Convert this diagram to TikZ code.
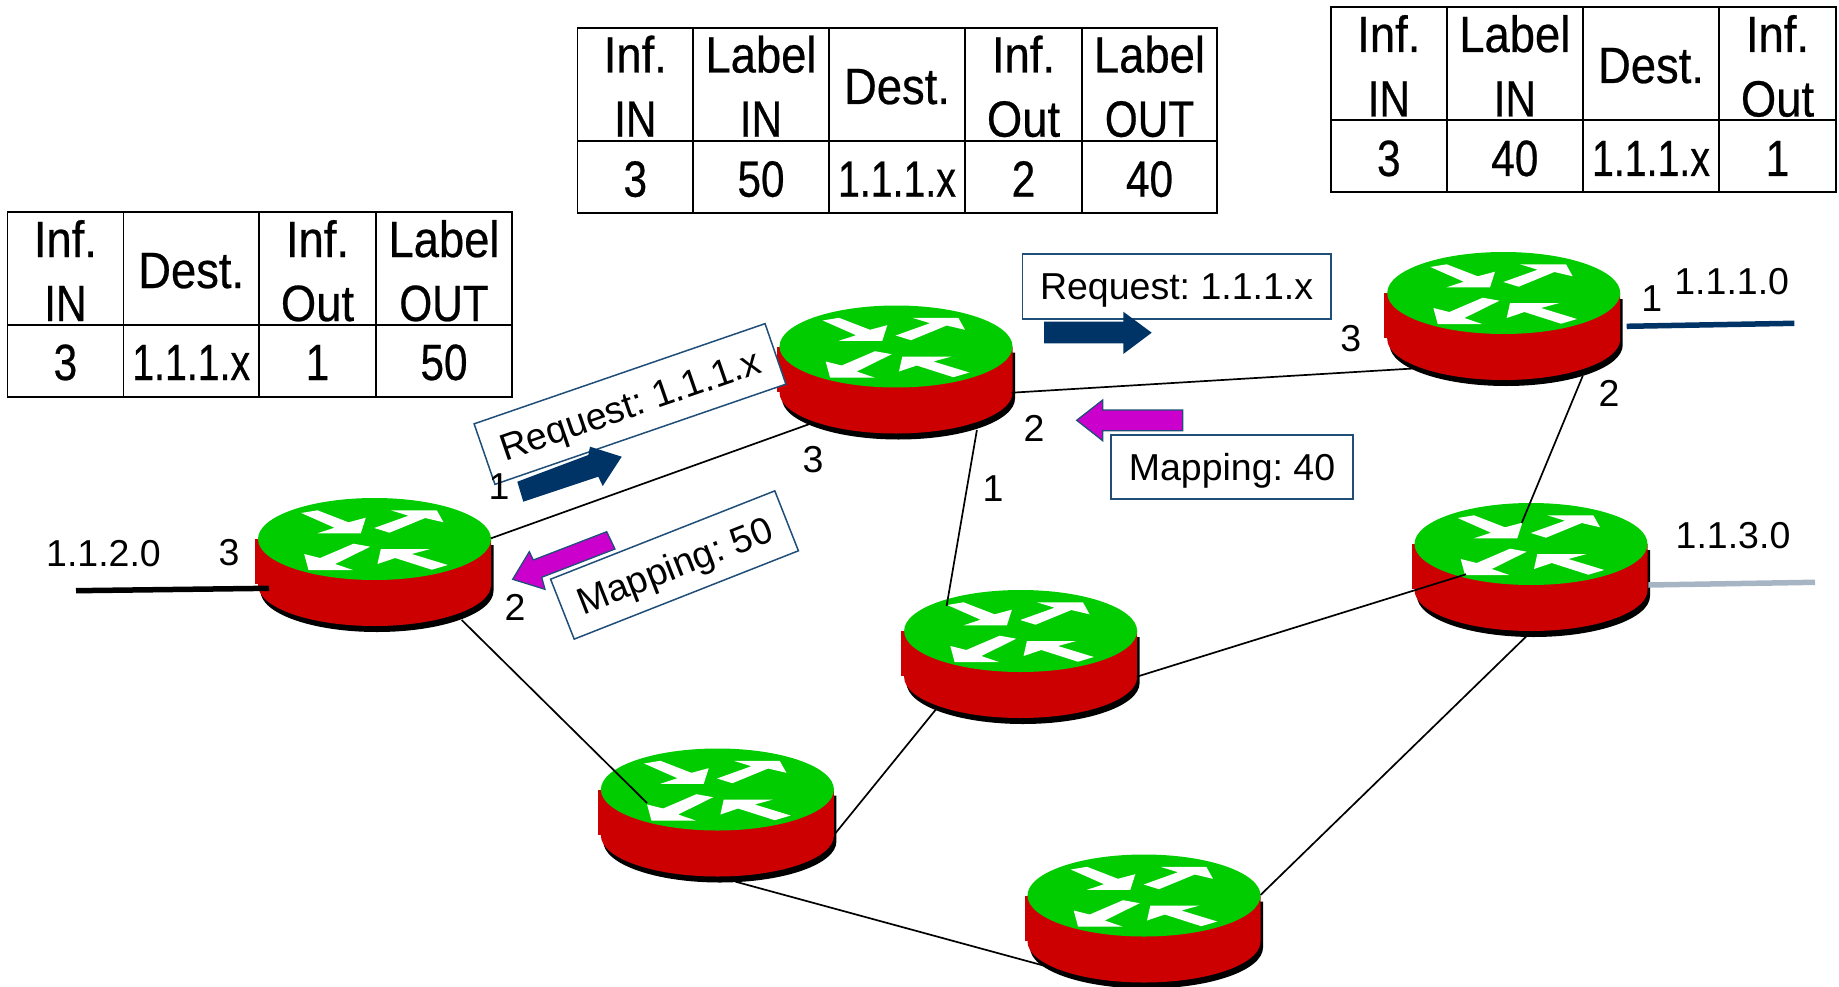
\documentclass[tikz,border=0pt]{standalone}
\usepackage{fontspec}
\setmainfont{Liberation Sans}
\newfontfamily\narrowfont[FakeStretch=0.83,FakeBold=0.5]{Liberation Sans}
\newfontfamily\lowerfont[FakeStretch=0.89,FakeBold=0.5]{Liberation Sans}
\newfontfamily\narrowerfont[FakeStretch=0.77,FakeBold=0.5]{Liberation Sans}
\usetikzlibrary{shapes.geometric,calc}
\definecolor{rgreen}{HTML}{00CC00}
\definecolor{rred}{HTML}{CC0000}
\definecolor{navy}{HTML}{003366}
\definecolor{boxblue}{HTML}{1F4E79}
\definecolor{magent}{HTML}{CC00CC}
\definecolor{graystub}{HTML}{A6B4C4}
\tikzset{
  face/.style={ellipse,fill=rgreen,minimum width=233,minimum height=82,inner sep=0},
  link/.style={black,line width=1.7},
  stub/.style={line width=5.5},
  cellbox/.style={draw=black,line width=1.7},
  tabletext/.style={anchor=base,inner sep=0,font=\narrowfont\fontsize{51}{51}\selectfont},
  tablelow/.style={anchor=base,inner sep=0,font=\lowerfont\fontsize{51}{51}\selectfont},
  tablewide/.style={anchor=base,inner sep=0,font=\narrowerfont\fontsize{51}{51}\selectfont},
  num/.style={anchor=base,inner sep=0,font=\fontsize{37.5}{40}\selectfont},
  callout/.style={draw=boxblue,fill=white,line width=1.5,inner sep=0,font=\fontsize{37.5}{40}\selectfont\frenchspacing,text height=27,text depth=0},
  bluearrow/.style={fill=navy},
  magarrow/.style={fill=magent,draw=boxblue,line width=1.3}
}
% name, x, y
\newcommand{\routerat}[3]{%
  \begin{scope}[shift={(#2,#3)}]
    \fill[black,shift={(2.5,6)}] (-116.5,0) -- (-116.5,46) arc[start angle=180,end angle=360,x radius=116.5,y radius=-41] -- (116.5,0) -- cycle;
    \fill[rred] (-119.5,0) rectangle (-116,45);
    \fill[rred] (-116.5,0) -- (-116.5,46) arc[start angle=180,end angle=360,x radius=116.5,y radius=-41] -- (116.5,0) -- cycle;
  \end{scope}
  \node[face] (#1) at (#2,#3) {};
  \begin{scope}[shift={(#2,#3)}]
    \fill[white] (-73.3,-26) -- (-57,-28.7) -- (-26,-16.7) -- (-8.7,-21.3) -- (-13.7,-5.7) -- (-57,-5.7) -- (-40,-11.3) -- cycle;
    \fill[white] (-0.3,-11) -- (15,-6.3) -- (50.7,-21) -- (69,-16.7) -- (62.3,-28.7) -- (16.3,-28.7) -- (34,-23.3) -- cycle;
    \fill[white] (-4.3,7.7) -- (-21,4.7) -- (-54.3,19) -- (-70.3,15) -- (-66,31) -- (-21.7,31) -- (-39.3,25) -- cycle;
    \fill[white] (73.3,26) -- (57.3,30.7) -- (20.7,19) -- (3,25) -- (6.3,10) -- (55.7,10) -- (37.3,15) -- cycle;
  \end{scope}%
}
\begin{document}
\begin{tikzpicture}[x=1pt,y=-1pt]
\useasboundingbox (0,0) rectangle (1839,987);
% routers
\routerat{r1}{374.5}{539}
\routerat{r2}{896}{346.5}
\routerat{r3}{1503.7}{293}
\routerat{r4}{1020.6}{631}
\routerat{r5}{1531}{544}
\routerat{r6}{717.4}{789.5}
\routerat{r7}{1144}{895.5}
% links
\draw[link] ($(r1)+(116.5,-0.7)$) -- ($(r2)+(-86.4,77.5)$);
\draw[link] ($(r2)+(115.7,46.2)$) -- ($(r3)+(-90.4,75.5)$);
\draw[link] ($(r2)+(80.9,83.5)$) -- ($(r4)+(-74,-25)$);
\draw[link] ($(r3)+(79,83)$) -- ($(r5)+(-9.3,-21)$);
\draw[link] ($(r4)+(116.2,45.7)$) -- ($(r5)+(-65,30.3)$);
\draw[link] ($(r4)+(-84.6,78.3)$) -- ($(r6)+(118.2,43.5)$);
\draw[link] ($(r1)+(87.2,81)$) -- ($(r6)+(-70.4,13.5)$);
\draw[link] ($(r6)+(18.2,92.2)$) -- ($(r7)+(-96.2,71.2)$);
\draw[link] ($(r7)+(116.5,-0.5)$) -- ($(r5)+(-4.3,92)$);
% network stubs
\coordinate (n2a) at (76,590.7);
\coordinate (n2b) at (269,588.3);
\coordinate (n1a) at (1626.7,326.3);
\coordinate (n1b) at (1794.3,323.3);
\coordinate (n3a) at (1648.3,585);
\coordinate (n3b) at (1815,582.3);
\draw[stub,black] (n2a) -- (n2b);
\draw[stub,navy] (n1a) -- (n1b);
\draw[stub,graystub] (n3a) -- (n3b);
% callouts
\node[callout,rotate=19,minimum width=307.7,minimum height=64] (reqa) at (630,404) {Request: 1.1.1.x};
\node[callout,rotate=21.5,minimum width=241,minimum height=64.4] (mapa) at (674.5,565) {Mapping: 50};
\node[callout,minimum width=308.7,minimum height=64.7] (reqb) at (1176.6,286.4) {Request: 1.1.1.x};
\node[callout,minimum width=242,minimum height=64] (mapb) at (1232,467) {Mapping: 40};
% block arrows
\fill[bluearrow] (517.3,481.7) -- (588.3,455) -- (590,446.7) -- (621.7,456.7) -- (602.7,486) -- (598.3,476.7) -- (523.3,501.7) -- cycle;
\filldraw[magarrow] (512.7,579.3) -- (529.3,551.7) -- (533.3,560) -- (606.7,531.7) -- (615,549) -- (541.7,577.3) -- (545,589.3) -- cycle;
\fill[bluearrow] (1044,321.7) -- (1123.3,321.7) -- (1123.3,311.7) -- (1151.7,332.7) -- (1123.3,354) -- (1123.3,343.3) -- (1044,343.3) -- cycle;
\filldraw[magarrow] (1076.7,420.3) -- (1102.7,400) -- (1102.7,410) -- (1182.7,410) -- (1182.7,430.7) -- (1102.7,430.7) -- (1102.7,440.7) -- cycle;
% interface numbers and networks
\node[num] (i1) at (499,499.3) {1};
\node[num] (i2) at (515,620) {2};
\node[num] (i3) at (229,565) {3};
\node[num] (i4) at (813,472.5) {3};
\node[num] (i5) at (1034,441.5) {2};
\node[num] (i6) at (993,501) {1};
\node[num] (i7) at (1350.7,351.7) {3};
\node[num] (i8) at (1651.7,311.7) {1};
\node[num] (i9) at (1609,406.7) {2};
\node[num] (net2) at (103.5,566.5) {1.1.2.0};
\node[num] (net1) at (1731.7,294) {1.1.1.0};
\node[num] (net3) at (1733,548) {1.1.3.0};
% table 1
\foreach \a/\b in {7.4/123.4,123.4/259,259/376,376/512} {
  \draw[cellbox] (\a,212) rectangle (\b,325);
  \draw[cellbox] (\a,325) rectangle (\b,397);
}
\node[tablelow] (ta1) at (65.4,257) {Inf.};
\node[tabletext] (ta2) at (65.4,321) {IN};
\node[tablelow] (ta3) at (191.2,288) {Dest.};
\node[tablelow] (ta4) at (317.5,257) {Inf.};
\node[tablelow] (ta5) at (317.5,321) {Out};
\node[tablelow] (ta6) at (444,257) {Label};
\node[tabletext] (ta7) at (444,321) {OUT};
\node[tabletext] (ta8) at (65.4,380) {3};
\node[tablewide] (ta9) at (191.2,380) {1.1.1.x};
\node[tabletext] (ta10) at (317.5,380) {1};
\node[tabletext] (ta11) at (444,380) {50};
% table 2
\foreach \a/\b in {577.6/693,693/829,829/965,965/1082,1082/1217} {
  \draw[cellbox] (\a,27.7) rectangle (\b,140.7);
  \draw[cellbox] (\a,140.7) rectangle (\b,213);
}
\node[tablelow] (tb1) at (635.3,72.5) {Inf.};
\node[tabletext] (tb2) at (635.3,136.7) {IN};
\node[tablelow] (tb3) at (761,72.5) {Label};
\node[tabletext] (tb4) at (761,136.7) {IN};
\node[tablelow] (tb5) at (897,104) {Dest.};
\node[tablelow] (tb6) at (1023.5,72.5) {Inf.};
\node[tablelow] (tb7) at (1023.5,136.7) {Out};
\node[tablelow] (tb8) at (1149.5,72.5) {Label};
\node[tabletext] (tb9) at (1149.5,136.7) {OUT};
\node[tabletext] (tb10) at (635.3,196.7) {3};
\node[tabletext] (tb11) at (761,196.7) {50};
\node[tablewide] (tb12) at (897,196.7) {1.1.1.x};
\node[tabletext] (tb13) at (1023.5,196.7) {2};
\node[tabletext] (tb14) at (1149.5,196.7) {40};
% table 3
\foreach \a/\b in {1331/1446.7,1446.7/1583,1583/1719,1719/1836} {
  \draw[cellbox] (\a,7) rectangle (\b,120);
  \draw[cellbox] (\a,120) rectangle (\b,192);
}
\node[tablelow] (tc1) at (1388.8,52) {Inf.};
\node[tabletext] (tc2) at (1388.8,116.5) {IN};
\node[tablelow] (tc3) at (1514.8,52) {Label};
\node[tabletext] (tc4) at (1514.8,116.5) {IN};
\node[tablelow] (tc5) at (1651,83) {Dest.};
\node[tablelow] (tc6) at (1777.5,52) {Inf.};
\node[tablelow] (tc7) at (1777.5,116.5) {Out};
\node[tabletext] (tc8) at (1388.8,176) {3};
\node[tabletext] (tc9) at (1514.8,176) {40};
\node[tablewide] (tc10) at (1651,176) {1.1.1.x};
\node[tabletext] (tc11) at (1777.5,176) {1};
\end{tikzpicture}
\end{document}
